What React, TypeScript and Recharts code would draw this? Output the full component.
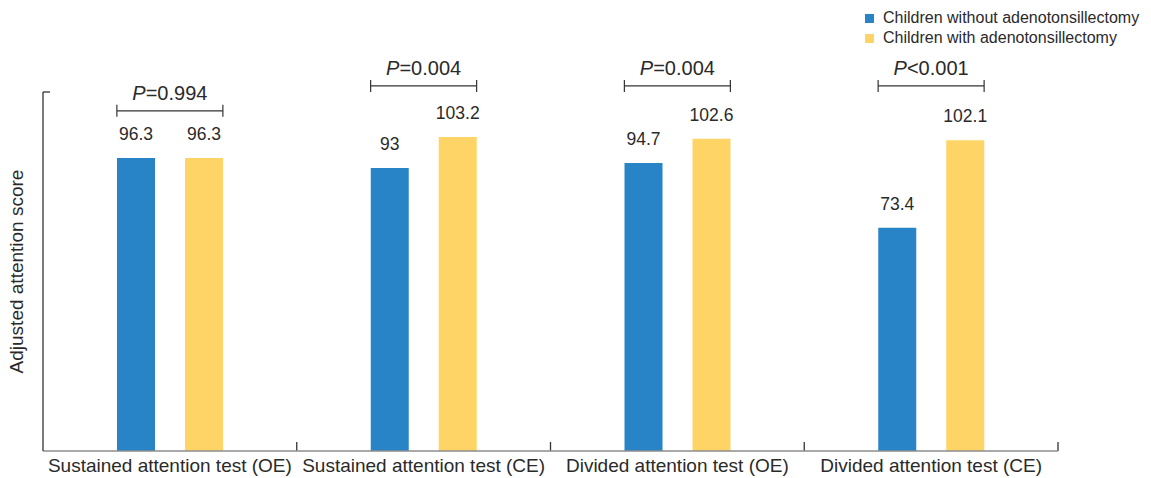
import React from 'react';
import { BarChart, Bar, XAxis, YAxis, LabelList, ReferenceLine, Legend } from 'recharts';

const categories = [
  'Sustained attention test (OE)',
  'Sustained attention test (CE)',
  'Divided attention test (OE)',
  'Divided attention test (CE)',
];
const withoutValues = [96.3, 93, 94.7, 73.4];
const withValues = [96.3, 103.2, 102.6, 102.1];
const pLabels = ['P=0.994', 'P=0.004', 'P=0.004', 'P<0.001'];
const bracketHeights = [111.8, 120, 120, 120];
const seriesNames = ['Children without adenotonsillectomy', 'Children with adenotonsillectomy'];
const boundaries = [1, 2, 3, 4];
const yMax = 118;

const COLORS = ['#2884C6', '#FED466'];
const TEXT = '#2a2a2a';
const FONT = '"Liberation Sans", Arial, Helvetica, sans-serif';

const W = 1143;
const H = 470;
const MARGIN = { top: 84, right: 93, bottom: 0, left: 0 };
const Y_WIDTH = 35;
const X_HEIGHT = 27;
const BAR_SIZE = 38;
const BAR_GAP = 30;

const plotWidth = W - MARGIN.left - MARGIN.right - Y_WIDTH;
const band = plotWidth / categories.length;
const halfPair = (2 * BAR_SIZE + BAR_GAP) / 2 / band;
const pxPerUnitX = 1 / band;
const plotHeight = H - MARGIN.top - X_HEIGHT;
const unitsPerPxY = yMax / plotHeight;

const data = categories.map((c, i) => ({
  name: c,
  pos: i + 0.5,
  without: withoutValues[i],
  with: withValues[i],
}));

const PLabel = (text: string) => (props: any) => {
  const vb = props.viewBox || {};
  const cx = vb.x + (vb.width || 0) / 2;
  const y = vb.y - 11;
  return (
    <text x={cx} y={y} textAnchor="middle" fill={TEXT} fontSize={20} fontFamily={FONT}>
      <tspan fontStyle="italic">{text.charAt(0)}</tspan>
      <tspan>{text.slice(1)}</tspan>
    </text>
  );
};

const YLabel = (props: any) => {
  const vb = props.viewBox || {};
  const x = vb.x + 8;
  const y = vb.y + vb.height / 2;
  return (
    <text
      x={x}
      y={y}
      dy="0.355em"
      transform={`rotate(-90, ${x}, ${y})`}
      textAnchor="middle"
      fill={TEXT}
      fontSize={19}
      fontFamily={FONT}
    >
      Adjusted attention score
    </text>
  );
};

const LegendContent = (props: any) => {
  const payload = props.payload || [];
  return (
    <div style={{ fontFamily: FONT, fontSize: 16, color: TEXT }}>
      {payload.map((p: any, i: number) => (
        <div key={i} style={{ display: 'flex', alignItems: 'center', height: 20, lineHeight: '20px' }}>
          <span style={{ display: 'inline-block', width: 9, height: 9, background: p.color, marginRight: 9, flex: 'none' }} />
          <span style={{ whiteSpace: 'nowrap' }}>{p.value}</span>
        </div>
      ))}
    </div>
  );
};

export default function App() {
  const capH = 6 * unitsPerPxY;
  const tickH = 9 * unitsPerPxY;
  return (
    <div style={{ width: W, height: H }}>
      <BarChart width={W} height={H} data={data} margin={MARGIN} barSize={BAR_SIZE} barGap={BAR_GAP}>
        <XAxis
          dataKey="name"
          axisLine={{ stroke: '#8c8c8c', strokeWidth: 1.5 }}
          tickLine={false}
          height={X_HEIGHT}
          interval={0}
          tick={{ fill: TEXT, fontSize: 19, fontFamily: FONT }}
        />
        <XAxis
          xAxisId="b"
          dataKey="pos"
          type="number"
          domain={[0, categories.length]}
          allowDataOverflow
          hide
        />
        <YAxis
          width={Y_WIDTH}
          domain={[0, yMax]}
          allowDataOverflow
          tick={false}
          tickLine={false}
          axisLine={{ stroke: '#333', strokeWidth: 1.3 }}
          label={YLabel}
        />
        <Legend
          layout="vertical"
          align="center"
          verticalAlign="middle"
          content={LegendContent}
          itemSorter={(item: any) => seriesNames.indexOf(item.value)}
          wrapperStyle={{ left: 857, top: 0, width: 280 }}
        />
        <Bar dataKey="without" name={seriesNames[0]} fill={COLORS[0]} isAnimationActive={false}>
          <LabelList dataKey="without" position="top" offset={18} fill={TEXT} fontSize={17.5} fontFamily={FONT} />
        </Bar>
        <Bar dataKey="with" name={seriesNames[1]} fill={COLORS[1]} isAnimationActive={false}>
          <LabelList dataKey="with" position="top" offset={18} fill={TEXT} fontSize={17.5} fontFamily={FONT} />
        </Bar>
        <ReferenceLine
          xAxisId="b"
          ifOverflow="visible"
          segment={[{ x: 0, y: yMax }, { x: 7 * pxPerUnitX, y: yMax }]}
          stroke="#333"
          strokeWidth={1.3}
        />
        {boundaries.map((b) => (
          <ReferenceLine
            key={'t' + b}
            xAxisId="b"
            ifOverflow="visible"
            segment={[{ x: b, y: 0 }, { x: b, y: tickH }]}
            stroke="#333"
            strokeWidth={1.3}
          />
        ))}
        {categories.map((c, i) => {
          const x1 = i + 0.5 - halfPair;
          const x2 = i + 0.5 + halfPair;
          const y = bracketHeights[i];
          return [
            <ReferenceLine
              key={'h' + i}
              xAxisId="b"
              ifOverflow="visible"
              segment={[{ x: x1, y }, { x: x2, y }]}
              stroke="#333"
              strokeWidth={1.2}
              label={PLabel(pLabels[i])}
            />,
            <ReferenceLine
              key={'l' + i}
              xAxisId="b"
              ifOverflow="visible"
              segment={[{ x: x1, y: y - capH }, { x: x1, y: y + capH }]}
              stroke="#333"
              strokeWidth={1.2}
            />,
            <ReferenceLine
              key={'r' + i}
              xAxisId="b"
              ifOverflow="visible"
              segment={[{ x: x2, y: y - capH }, { x: x2, y: y + capH }]}
              stroke="#333"
              strokeWidth={1.2}
            />,
          ];
        })}
      </BarChart>
    </div>
  );
}
